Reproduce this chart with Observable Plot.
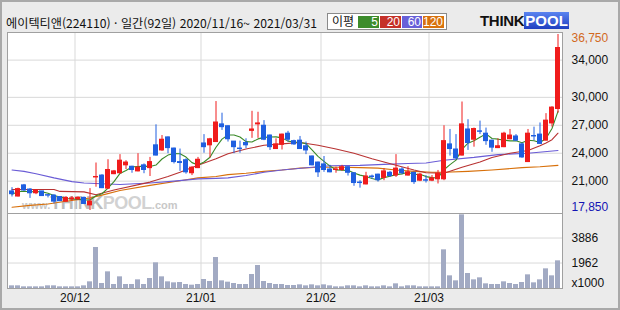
<!DOCTYPE html>
<html lang="ko">
<head>
<meta charset="utf-8">
<script src="https://cdn.jsdelivr.net/npm/d3@7"></script>
<script src="https://cdn.jsdelivr.net/npm/@observablehq/plot@0.6"></script>
<style>
  html,body{margin:0;padding:0;background:#ebebeb;}
  #wrap{position:relative;width:620px;height:310px;background:#ebebeb;overflow:hidden;font-family:"Liberation Sans",Arial,sans-serif;}
  #outer{position:absolute;left:0;top:0;width:620px;height:310px;box-sizing:border-box;border:2px solid #a9a9a9;}
  #title{position:absolute;left:6px;top:14px;font-family:"Noto Sans CJK KR",sans-serif;font-size:12px;line-height:17px;color:#111;white-space:nowrap;transform-origin:0 50%;}
  #legend{position:absolute;left:327px;top:13px;width:120px;height:17px;box-sizing:border-box;border:1px solid #8a8a8a;background:#fff;font-family:"Noto Sans CJK KR",sans-serif;font-size:12px;}
  #legend .lab{position:absolute;left:4px;top:-1px;line-height:16px;color:#111;}
  #legend .b{position:absolute;top:2px;height:12px;line-height:12px;color:#fff;text-align:right;font-family:"Liberation Sans",Arial,sans-serif;font-size:12px;box-sizing:border-box;padding-right:1px;}
  #logo{position:absolute;left:480px;top:13px;height:16px;font-family:"Liberation Sans",Arial,sans-serif;font-weight:bold;font-size:15px;line-height:16px;white-space:nowrap;}
  #logo .t{color:#111;letter-spacing:-0.3px}
  #logo .p{color:#fff;background:linear-gradient(#5a84f0,#1f3fc0);padding:0 1px;}
  #panel{position:absolute;left:7px;top:32px;width:555px;height:256px;background:#fff;}
  #wm{position:absolute;left:22px;top:193px;white-space:nowrap;font-family:"Liberation Sans",Arial,sans-serif;font-weight:bold;line-height:20px;color:#c8c8c8;}
  #wm .k{font-size:18px;color:#bcbcbc;letter-spacing:-0.5px}
  #wm .q{font-size:18px;color:#d2d2d2;letter-spacing:-0.5px}
  #price,#vol{position:absolute;left:0;}
  #price{top:0}
  #vol{top:213px}
</style>
</head>
<body>
<div id="wrap">
  <div id="outer"></div>
  <div id="title">에이텍티앤(224110) · 일간(92일) 2020/11/16~ 2021/03/31</div>
  <div id="legend">
    <span class="lab">이평</span>
    <span class="b" style="left:30px;width:21px;background:#3d8c2c">5</span>
    <span class="b" style="left:52px;width:21px;background:#c53129">20</span>
    <span class="b" style="left:74px;width:20px;background:#6860d8">60</span>
    <span class="b" style="left:95px;width:21px;background:#d8720f">120</span>
  </div>
  <div id="logo"><span class="t">THINK</span><span class="p">POOL</span></div>
  <div id="panel"></div>
  <div id="wm"><span style="font-size:11px">www.</span><span class="k">THINK</span><span class="q">POOL</span><span style="font-size:11px">.com</span></div>
  <div id="price"></div>
  <div id="vol"></div>
</div>
<script>
// ---- trading days (2020/11/16 ~ 2021/03/31, 92 sessions) ----
const nov2020 = [16,17,18,19,20,23,24,25,26,27,30];
const dec2020 = [1,2,3,4,7,8,9,10,11,14,15,16,17,18,21,22,23,24,28,29,30];
const jan2021 = [4,5,6,7,8,11,12,13,14,15,18,19,20,21,22,25,26,27,28,29];
const feb2021 = [1,2,3,4,5,8,9,10,15,16,17,18,19,22,23,24,25,26];
const mar2021 = [2,3,4,5,8,9,10,11,12,15,16,17,18,19,22,23,24,25,26,29,30,31];
const monthLabels = ["20/12","21/01","21/02","21/03"];

// ---- daily prices (KRW) ----
const open = [
19900,19350,20550,20100,19700,19900,19500,19450,19300,18800,
19050,19050,19200,18400,21400,21600,20200,21750,21850,22700,
22550,22050,22700,22400,24850,24300,25700,24500,23050,23250,
21850,22400,25050,24850,25200,27100,26900,25250,24500,25100,
26400,27100,26950,25900,24450,24900,26100,25300,25350,24750,
23650,23000,22800,22250,22200,22200,22500,21850,20850,20650,
21500,21700,21350,21900,21600,22250,21600,21900,21050,21100,
21050,21200,21200,24950,24400,23750,26550,25450,26350,26100,
25350,24550,24650,25500,25800,24950,23050,25850,26000,25350,
27200,28750];
const high = [
20300,20250,20650,20200,20100,19900,19550,19550,19300,19350,
19350,19350,19300,20200,22950,21700,23300,22150,23850,23200,
22600,23950,22850,23550,27050,25900,25750,24550,24450,23400,
22550,23550,26000,25600,29550,28300,26950,25250,25300,25550,
28500,28400,27500,25950,25550,26050,26350,25400,25800,25200,
23700,23050,23650,22700,22500,22700,22550,21900,21050,21950,
21650,21750,22350,22050,23850,22450,22550,21950,21850,21600,
21600,22150,26950,26550,26000,29500,27600,26700,27450,26700,
25400,25550,26250,26550,26000,25100,26550,26800,27250,28250,
29000,36750];
const low = [
19300,19300,19900,19150,19550,19400,19200,18550,18850,18750,
18850,18900,18500,17850,20350,20200,20100,21700,21800,22250,
21850,22000,21800,21500,23700,24200,23950,22850,22050,21750,
21600,22350,24000,23500,25150,26450,25200,23950,24000,24500,
25600,25600,25350,24300,24400,24350,25200,24850,24400,23850,
22650,21400,21950,21900,21850,22050,21550,20450,20250,20600,
21200,20900,21050,21400,21400,21700,21550,20650,20950,20800,
20950,20700,21050,23700,23350,23700,24300,24650,26000,24850,
24100,24500,24600,25450,25250,23450,23000,25350,24950,25300,
26800,28300];
const close = [
19600,20150,20000,19700,20000,19400,19450,18800,18850,19200,
19150,19200,18550,18800,21450,20250,22200,22050,23200,23000,
22200,22450,22200,23050,23750,25450,24550,23050,22950,21950,
22450,23300,24650,25500,27300,26800,25500,24650,24450,24850,
26550,27200,25450,24650,24950,26000,25450,24950,24450,24300,
22700,21950,22200,21950,22250,22500,21900,20800,20800,21500,
21450,21100,22050,21550,22350,21850,21950,20900,21700,21050,
21300,21800,25300,24450,23450,27100,25100,26600,26300,25300,
24600,24750,26100,25900,25350,23550,26100,25800,25000,27500,
28900,35300];
// ---- volume (x1000 shares) ----
const volume = [
205,205,128,128,128,128,205,205,128,128,
128,128,205,513,3157,385,1283,308,898,308,
308,667,308,770,1976,898,513,436,462,308,
257,308,693,539,2387,590,488,385,308,308,
1078,1771,539,385,308,308,231,231,282,205,
282,205,282,205,128,128,205,205,128,205,
128,128,205,128,359,128,205,205,128,128,
128,128,2977,975,590,5672,1155,667,821,359,
308,308,513,385,308,462,1052,436,667,1514,
975,2130];

// ---- moving averages: [session index, value] ----
const ma20 = [[0,20100],[7,20100],[8,19900],[12,19850],[14,19550],[17,20050],[23,20900],[26,21500],[28,21950],[31,22700],[34,23400],[36,23950],[39,24450],[42,24850],[45,25000],[48,25150],[51,24850],[54,24450],[57,24000],[60,23400],[62,23050],[64,22700],[67,22200],[69,21900],[72,21850],[75,22500],[78,23050],[80,23550],[83,24000],[86,24300],[88,24800],[89,25100],[90,25450],[91,26150]];
const ma60 = [[0,22200],[2,22050],[4,21800],[7,21350],[10,20950],[12,20800],[16,20700],[18,20650],[23,20800],[27,21000],[31,21250],[34,21300],[36,21350],[39,21600],[42,21950],[45,22200],[50,22500],[53,22650],[58,22700],[62,22800],[66,22900],[69,22950],[72,23250],[77,23550],[81,23850],[86,24000],[91,24300]];
const ma120 = [[0,18200],[3,18400],[6,18550],[9,18850],[13,19200],[15,19500],[18,20000],[23,20550],[28,21050],[31,21350],[34,21500],[36,21700],[39,21850],[42,22050],[45,22200],[48,22400],[51,22500],[55,22500],[58,22450],[61,22400],[64,22200],[67,22050],[70,21950],[72,21950],[76,22050],[80,22200],[85,22450],[88,22550],[91,22700]];

const priceTicks = [34000, 30000, 27000, 24000, 21000];
const volTicks = [1962, 3886];
const volUnit = "x1000";

// ---- colours ----
const UP = "#f01c1c", DOWN = "#1f5fe0";
const C5 = "#3a8a28", C20 = "#b83232", C60 = "#6a5cd6", C120 = "#d8700a";
const GRID = "#d9d9d9", FRAME = "#a0a0a0", VOLC = "#a2aac3";

// ---- build rows ----
const months = [[2020,11,nov2020],[2020,12,dec2020],[2021,1,jan2021],[2021,2,feb2021],[2021,3,mar2021]];
const dates = months.flatMap(([y, m, days]) => days.map(d => new Date(y, m - 1, d)));
const N = dates.length;
const rows = d3.range(N).map(i => ({
  i, date: dates[i], open: open[i], high: high[i], low: low[i], close: close[i], vol: volume[i],
  color: close[i] >= open[i] ? UP : DOWN
}));
const bounds = [];
for (let i = 1; i < N; i++) if (dates[i].getMonth() !== dates[i - 1].getMonth()) bounds.push({x: i - 0.5});
bounds.forEach((b, k) => b.label = monthLabels[k]);

const xDomain = [-0.75, N - 0.25];
const pmax = d3.max(high), pmin = d3.min(low);
const k = (pmax - pmin) / 176;
const yDomain = [pmin - 3 * k, pmax + 2 * k];
const fmt = d3.format(",");
const half = 5 / 12;

const common = {fontFamily: "'Liberation Sans', Arial, sans-serif", fontSize: "12px", background: "transparent", overflow: "visible"};

const price = Plot.plot({
  width: 620, height: 213,
  marginLeft: 7, marginRight: 58, marginTop: 32, marginBottom: 0,
  style: common,
  x: {domain: xDomain, axis: null},
  y: {domain: yDomain, axis: null},
  marks: [
    Plot.ruleY(priceTicks, {stroke: GRID}),
    Plot.ruleX(bounds, {x: "x", stroke: GRID}),
    Plot.line(ma120, {x: d => d[0], y: d => d[1], stroke: C120, strokeWidth: 1.1}),
    Plot.line(ma60, {x: d => d[0], y: d => d[1], stroke: C60, strokeWidth: 1.1}),
    Plot.line(ma20, {x: d => d[0], y: d => d[1], stroke: C20, strokeWidth: 1.1}),
    Plot.lineY(rows, Plot.windowY({k: 5, anchor: "end"}, {x: "i", y: "close", stroke: C5, strokeWidth: 1.1})),
    Plot.ruleX(rows, {x: "i", y1: "low", y2: "high", stroke: "color"}),
    Plot.rect(rows, {x1: d => d.i - half, x2: d => d.i + half, y1: "open", y2: "close", fill: "color", insetTop: -0.5, insetBottom: -0.5}),
    Plot.frame({stroke: FRAME}),
    Plot.text(priceTicks, {y: d => d, text: d => fmt(d), frameAnchor: "right", dx: 9, textAnchor: "start", fill: "#111", fontSize: 12}),
    Plot.text([pmax], {y: d => d, text: d => fmt(d), frameAnchor: "right", dx: 9, dy: 3.5, textAnchor: "start", fill: "#d2691e", fontSize: 12}),
    Plot.text([pmin], {y: d => d, text: d => fmt(d), frameAnchor: "right", dx: 9, dy: -3, textAnchor: "start", fill: "#1414b4", fontSize: 12})
  ]
});
document.getElementById("price").append(price);

const vol = Plot.plot({
  width: 620, height: 97,
  marginLeft: 7, marginRight: 58, marginTop: 0, marginBottom: 22,
  style: common,
  x: {domain: xDomain, axis: null},
  y: {domain: [0, 5775], axis: null},
  marks: [
    Plot.ruleY(volTicks, {stroke: GRID}),
    Plot.ruleX(bounds, {x: "x", stroke: GRID}),
    Plot.rect(rows, {x1: d => d.i - half, x2: d => d.i + half, y1: d => 0, y2: "vol", fill: VOLC}),
    Plot.frame({stroke: FRAME}),
    Plot.text(volTicks, {y: d => d, text: d => String(d), frameAnchor: "right", dx: 9, textAnchor: "start", fill: "#111", fontSize: 12}),
    Plot.text([volUnit], {text: d => d, frameAnchor: "bottom-right", dx: 9, dy: -2, textAnchor: "start", fill: "#111", fontSize: 12}),
    Plot.text(bounds, {x: "x", text: "label", frameAnchor: "bottom", dy: 13, fill: "#111", fontSize: 12})
  ]
});
document.getElementById("vol").append(vol);

// fit title to reference width
const t = document.getElementById("title");
const w = t.getBoundingClientRect().width;
if (w > 0) t.style.transform = `scaleX(${311 / w})`;
</script>
</body>
</html>
